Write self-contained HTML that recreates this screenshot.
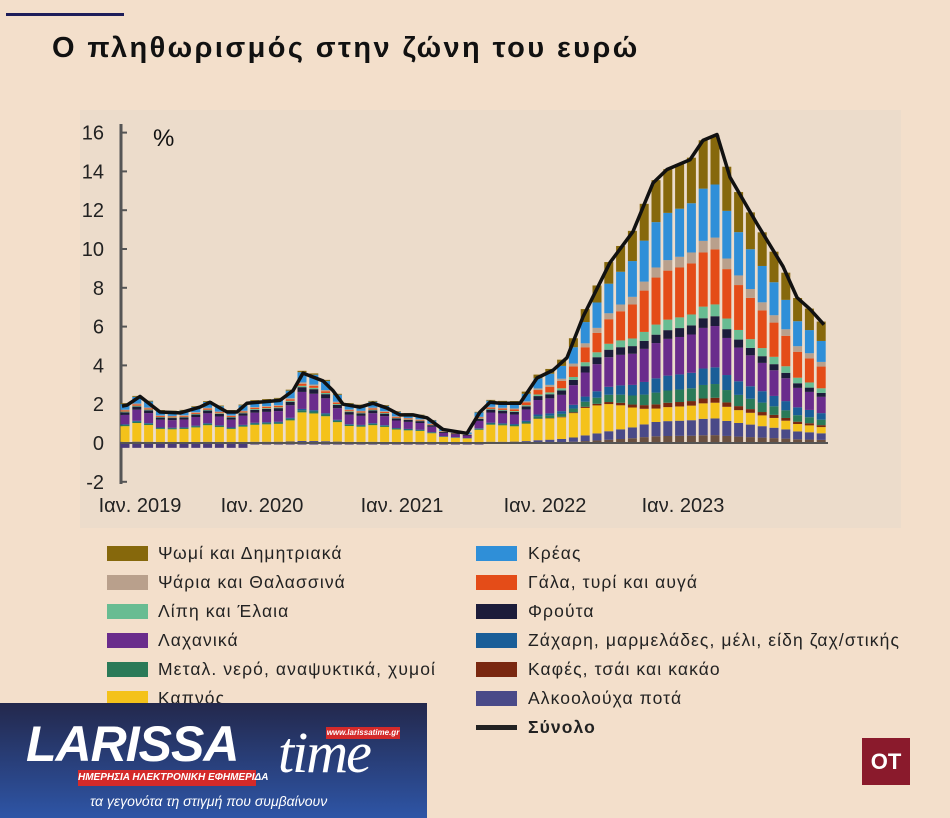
<!DOCTYPE html>
<html><head><meta charset="utf-8">
<style>
body{margin:0;background:#f3dfcb;font-family:"Liberation Sans",sans-serif;}
#w{position:relative;width:950px;height:818px;overflow:hidden;background:#f3dfcb;}
.t{position:absolute;white-space:nowrap;}
.lg{position:absolute;font-size:17.5px;color:#222;white-space:nowrap;letter-spacing:1.1px;}
.sw{position:absolute;width:41px;height:15px;}
</style></head><body>
<div id="w">
<div style="position:absolute;left:6px;top:13px;width:118px;height:3px;background:#1d1d5a"></div>
<div class="t" style="left:52px;top:32px;font-size:29px;font-weight:bold;color:#111;letter-spacing:2.4px">Ο πληθωρισμός στην ζώνη του ευρώ</div>
<div style="position:absolute;left:80px;top:110px;width:821px;height:418px;background:#ecdccb"></div>
<svg id="ch" width="950" height="818" style="position:absolute;left:0;top:0"></svg>

<div class="sw" style="left:107px;top:546px;background:#86680c"></div><div class="lg" style="left:158px;top:543px">Ψωμί και Δημητριακά</div>
<div class="sw" style="left:107px;top:575px;background:#b9a08c"></div><div class="lg" style="left:158px;top:572px">Ψάρια και Θαλασσινά</div>
<div class="sw" style="left:107px;top:604px;background:#68bc92"></div><div class="lg" style="left:158px;top:601px">Λίπη και Έλαια</div>
<div class="sw" style="left:107px;top:633px;background:#6a2c8c"></div><div class="lg" style="left:158px;top:630px">Λαχανικά</div>
<div class="sw" style="left:107px;top:662px;background:#2a7a58"></div><div class="lg" style="left:158px;top:659px">Μεταλ. νερό, αναψυκτικά, χυμοί</div>
<div class="sw" style="left:107px;top:691px;background:#f4c21a"></div><div class="lg" style="left:158px;top:688px">Καπνός</div>
<div class="sw" style="left:476px;top:546px;background:#2f8fd8"></div><div class="lg" style="left:528px;top:543px">Κρέας</div>
<div class="sw" style="left:476px;top:575px;background:#e44c18"></div><div class="lg" style="left:528px;top:572px">Γάλα, τυρί και αυγά</div>
<div class="sw" style="left:476px;top:604px;background:#1c1c3a"></div><div class="lg" style="left:528px;top:601px">Φρούτα</div>
<div class="sw" style="left:476px;top:633px;background:#1a5e98"></div><div class="lg" style="left:528px;top:630px">Ζάχαρη, μαρμελάδες, μέλι, είδη ζαχ/στικής</div>
<div class="sw" style="left:476px;top:662px;background:#7a2810"></div><div class="lg" style="left:528px;top:659px">Καφές, τσάι και κακάο</div>
<div class="sw" style="left:476px;top:691px;background:#4a4a88"></div><div class="lg" style="left:528px;top:688px">Αλκοολούχα ποτά</div>
<div style="position:absolute;left:476px;top:725px;width:41px;height:5px;background:#222"></div><div class="lg" style="left:528px;top:717px;font-weight:bold">Σύνολο</div>

<div style="position:absolute;left:0;top:703px;width:427px;height:115px;background:linear-gradient(#23284c,#2e55a6)">
 <div class="t" style="left:26px;top:12px;font-size:50px;font-weight:bold;font-style:italic;color:#fff;letter-spacing:-1px">LARISSA</div>
 <div class="t" style="left:278px;top:16px;font-size:58px;font-style:italic;font-family:'Liberation Serif',serif;color:#fff;letter-spacing:-2px">time</div>
 <div class="t" style="left:78px;top:67px;width:178px;height:16px;background:#d42a2a;color:#fff;font-size:10px;font-weight:bold;font-style:italic;text-align:center;line-height:16px">ΗΜΕΡΗΣΙΑ ΗΛΕΚΤΡΟΝΙΚΗ ΕΦΗΜΕΡΙΔΑ</div>
 <div class="t" style="left:326px;top:24px;width:74px;height:12px;background:#d42a2a;color:#fff;font-size:8px;font-weight:bold;font-style:italic;text-align:center;line-height:12px">www.larissatime.gr</div>
 <div class="t" style="left:90px;top:90px;font-size:14px;font-style:italic;color:#fff">τα γεγονότα τη στιγμή που συμβαίνουν</div>
</div>
<div style="position:absolute;left:862px;top:738px;width:48px;height:47px;background:#8a1a2c;color:#fff;font-size:22px;font-weight:bold;text-align:center;line-height:47px">OT</div>
</div>
<script>
var s=document.getElementById('ch'),h='';
function Y(v){return 443-v*19.4;}
h+='<line x1="121" y1="124" x2="121" y2="484" stroke="#555" stroke-width="3"/>';
for(var v=-2;v<=16;v+=2){var y=Y(v);h+='<line x1="121" y1="'+y+'" x2="127" y2="'+y+'" stroke="#555" stroke-width="2"/>';
h+='<text x="104" y="'+(y+7)+'" text-anchor="end" font-size="20" fill="#222" font-family="Liberation Sans">'+v+'</text>';}
h+='<text x="153" y="146" font-size="24" fill="#111" font-family="Liberation Sans">%</text>';
var xl=[[140,'Ιαν. 2019'],[262,'Ιαν. 2020'],[402,'Ιαν. 2021'],[545,'Ιαν. 2022'],[683,'Ιαν. 2023']];
xl.forEach(function(a){h+='<text x="'+a[0]+'" y="512" text-anchor="middle" font-size="20" fill="#222" font-family="Liberation Sans">'+a[1]+'</text>';});
var P=[[122,1.9],[127,1.95],[140,2.4],[160,1.6],[180,1.55],[200,1.85],[210,2.1],[227,1.6],[237,1.6],[247,2.05],[280,2.2],[293,2.7],[303,3.6],[323,3.2],[333,2.7],[343,2.0],[360,1.85],[373,2.05],[387,1.8],[400,1.45],[413,1.45],[427,1.3],[443,0.7],[467,0.5],[480,1.6],[490,2.1],[500,2.05],[520,2.05],[537,3.35],[553,3.75],[567,4.4],[583,6.5],[610,9.3],[633,10.9],[653,13.4],[667,14.1],[690,14.6],[703,15.6],[717,15.9],[730,13.7],[757,11.3],[783,9.1],[797,7.5],[810,6.9],[824,6.1]];
function tot(x){for(var i=0;i<P.length-1;i++){if(x>=P[i][0]&&x<=P[i+1][0]){var f=(x-P[i][0])/(P[i+1][0]-P[i][0]);return P[i][1]+f*(P[i+1][1]-P[i][1]);}}return P[P.length-1][1];}
var C=['#6a5040','#4a4a88','#f4c21a','#7a2810','#2a7a58','#1a5e98','#6a2c8c','#1c1c3a','#68bc92','#e44c18','#b9a08c','#2f8fd8','#86680c'];
var E=[0,0.03,0.42,0,0.03,0.02,0.25,0.07,0.02,0.03,0.02,0.15,0.02];
var L=[0.4,0.85,0.8,0.25,0.7,0.85,2.1,0.5,0.6,2.8,0.6,2.7,2.5];
var Ls=L.reduce(function(a,b){return a+b},0);L=L.map(function(v){return v/Ls;});
for(var i=0;i<60;i++){var x=125+11.8*i;if(x>826)break;var T=tot(x);
 var t=Math.max(0,Math.min(1,(x-500)/150));
 var y0=443;
 if(x<480){var neg=(x<250?0.25:0.08);h+='<rect x="'+(x-4.5)+'" y="443" width="9" height="'+(neg*19.4)+'" fill="#4a3a7a"/>';}
 for(var k=0;k<13;k++){var sh=E[k]*(1-t)+L[k]*t;var hh=sh*T*19.4;
  h+='<rect x="'+(x-4.5)+'" y="'+(y0-hh)+'" width="9" height="'+hh+'" fill="'+C[k]+'"/>';y0-=hh;}
}
h+='<line x1="121" y1="443" x2="828" y2="443" stroke="#555" stroke-width="2"/>';
var d='';P.forEach(function(p,j){d+=(j?'L':'M')+p[0]+','+Y(p[1]);});
h+='<path d="'+d+'" fill="none" stroke="#111" stroke-width="3.5" stroke-linejoin="round"/>';
s.innerHTML=h;
</script>
</body></html>
